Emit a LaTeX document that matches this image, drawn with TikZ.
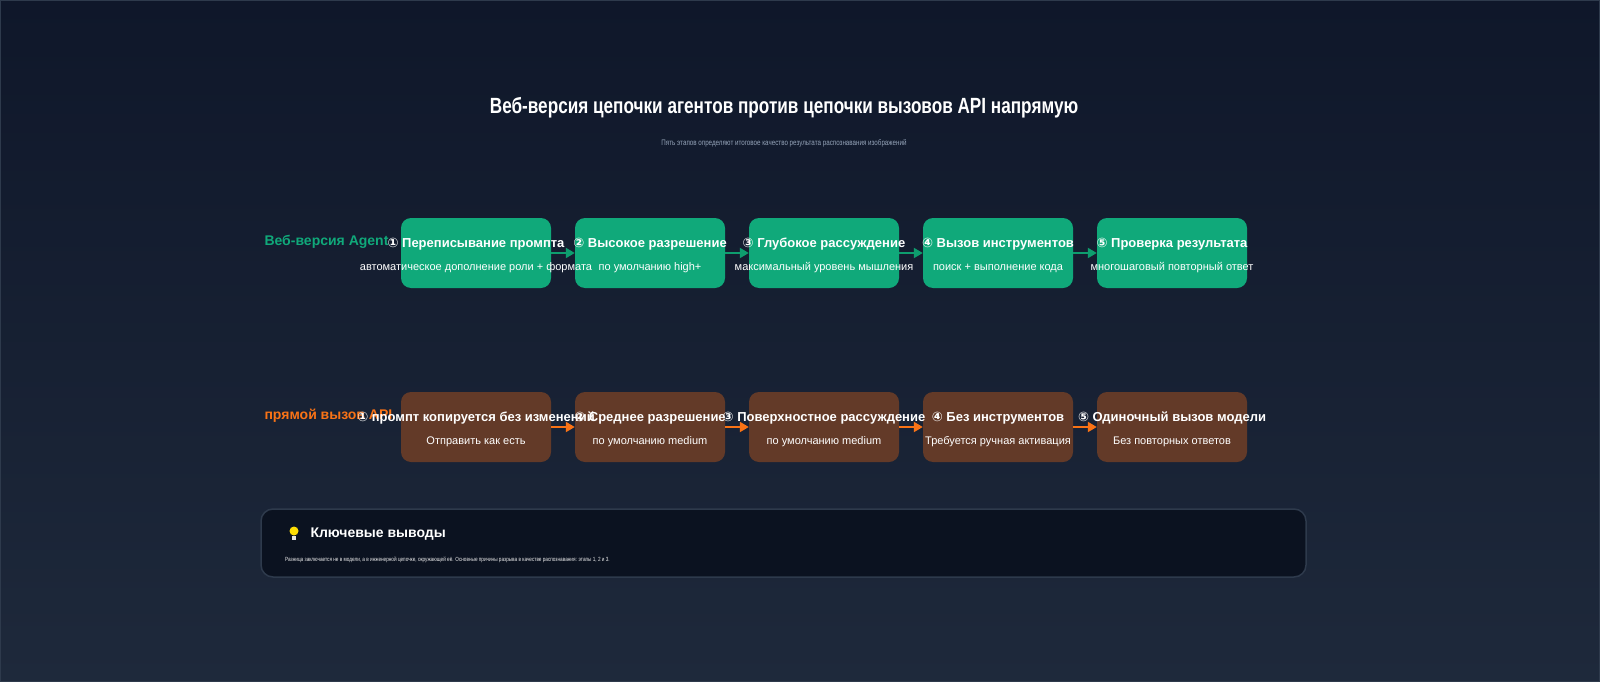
\documentclass[tikz,border=0pt]{standalone}
\usepackage{fontspec}
\setmainfont{Liberation Sans}
\newfontfamily\narrowfont[FakeStretch=0.78]{Liberation Sans}
\newfontfamily\symfont{DejaVu Sans}
\usetikzlibrary{positioning,arrows.meta}
\definecolor{bgtop}{HTML}{0F172A}
\definecolor{bgbot}{HTML}{1E293B}
\definecolor{webgreen}{HTML}{10A97A}
\definecolor{webarrow}{HTML}{0E9E6E}
\definecolor{apibrown}{HTML}{633A28}
\definecolor{apiorange}{HTML}{F97316}
\definecolor{panelfill}{HTML}{0B1220}
\definecolor{panelline}{HTML}{2E3A4C}
\definecolor{subgrey}{HTML}{94A3B8}
\newcommand{\cnum}[1]{{\symfont #1}}
\begin{document}
\begin{tikzpicture}[x=1pt,y=-1pt,
		% stili dei blocchi
		step box/.style={rounded corners=10pt, minimum width=150pt, minimum height=70pt, inner sep=0pt},
		web box/.style={step box, fill=webgreen},
		api box/.style={step box, fill=apibrown},
		head text/.style={text=white, font=\bfseries\fontsize{13}{15}\selectfont},
		sub text/.style={text=white, font=\fontsize{11}{13}\selectfont},
		web arrow/.style={draw=webarrow, line width=2pt, -{Triangle[length=9pt,width=10pt]}},
		api arrow/.style={draw=apiorange, line width=2pt, -{Triangle[length=9pt,width=10pt]}}
	]
	% sfondo
	\shade[top color=bgtop, bottom color=bgbot, shading angle=0] (0,0) rectangle (1600,682);
	\draw[panelline, line width=0.8pt] (0.5,0.5) rectangle (1599.5,681.5);
	\useasboundingbox (0,0) rectangle (1600,682);

	% titolo
	\node[text=white, font=\narrowfont\bfseries\fontsize{22}{24}\selectfont] (title) at (784,108) {Веб-версия цепочки агентов против цепочки вызовов API напрямую};
	\node[text=subgrey, font=\narrowfont\fontsize{8}{10}\selectfont, below=14pt of title] (subtitle) {Пять этапов определяют итоговое качество результата распознавания изображений};

	% etichette delle righe
	\node[anchor=west, text=webgreen, font=\bfseries\fontsize{14}{16}\selectfont] (weblabel) at (261,242) {Веб-версия Agent};
	\node[anchor=west, text=apiorange, font=\bfseries\fontsize{14}{16}\selectfont] (apilabel) at (261,416) {прямой вызов API};

	% =================================
	% RIGA 1 (web)
	% =================================
	\node[web box] (w1) at (476,253) {};
	\node[web box] (w2) at (650,253) {};
	\node[web box] (w3) at (824,253) {};
	\node[web box] (w4) at (998,253) {};
	\node[web box] (w5) at (1172,253) {};

	\draw[web arrow] (w1.east) -- (w2.west);
	\draw[web arrow] (w2.east) -- (w3.west);
	\draw[web arrow] (w3.east) -- (w4.west);
	\draw[web arrow] (w4.east) -- (w5.west);

	\node[head text] (w1h) at ([yshift=9pt]w1.center) {\cnum{①} Переписывание промпта};
	\node[sub text] (w1s) at ([yshift=-15pt]w1.center) {автоматическое дополнение роли + формата};
	\node[head text] (w2h) at ([yshift=9pt]w2.center) {\cnum{②} Высокое разрешение};
	\node[sub text] (w2s) at ([yshift=-15pt]w2.center) {по умолчанию high+};
	\node[head text] (w3h) at ([yshift=9pt]w3.center) {\cnum{③} Глубокое рассуждение};
	\node[sub text] (w3s) at ([yshift=-15pt]w3.center) {максимальный уровень мышления};
	\node[head text] (w4h) at ([yshift=9pt]w4.center) {\cnum{④} Вызов инструментов};
	\node[sub text] (w4s) at ([yshift=-15pt]w4.center) {поиск + выполнение кода};
	\node[head text] (w5h) at ([yshift=9pt]w5.center) {\cnum{⑤} Проверка результата};
	\node[sub text] (w5s) at ([yshift=-15pt]w5.center) {многошаговый повторный ответ};

	% =================================
	% RIGA 2 (API)
	% =================================
	\node[api box] (a1) at (476,427) {};
	\node[api box] (a2) at (650,427) {};
	\node[api box] (a3) at (824,427) {};
	\node[api box] (a4) at (998,427) {};
	\node[api box] (a5) at (1172,427) {};

	\draw[api arrow] (a1.east) -- (a2.west);
	\draw[api arrow] (a2.east) -- (a3.west);
	\draw[api arrow] (a3.east) -- (a4.west);
	\draw[api arrow] (a4.east) -- (a5.west);

	\node[head text] (a1h) at ([yshift=9pt]a1.center) {\cnum{①} промпт копируется без изменений};
	\node[sub text] (a1s) at ([yshift=-15pt]a1.center) {Отправить как есть};
	\node[head text] (a2h) at ([yshift=9pt]a2.center) {\cnum{②} Среднее разрешение};
	\node[sub text] (a2s) at ([yshift=-15pt]a2.center) {по умолчанию medium};
	\node[head text] (a3h) at ([yshift=9pt]a3.center) {\cnum{③} Поверхностное рассуждение};
	\node[sub text] (a3s) at ([yshift=-15pt]a3.center) {по умолчанию medium};
	\node[head text] (a4h) at ([yshift=9pt]a4.center) {\cnum{④} Без инструментов};
	\node[sub text] (a4s) at ([yshift=-15pt]a4.center) {Требуется ручная активация};
	\node[head text] (a5h) at ([yshift=9pt]a5.center) {\cnum{⑤} Одиночный вызов модели};
	\node[sub text] (a5s) at ([yshift=-15pt]a5.center) {Без повторных ответов};

	% =================================
	% RIQUADRO FINALE
	% =================================
	\node[draw=panelline, line width=1.5pt, fill=panelfill, rounded corners=12pt, minimum width=1045pt, minimum height=68pt] (panel) at (783.5,543) {};
	\fill[yellow!80!orange] (294,531) circle (4.5pt);
	\fill[white!80!gray] (292,536) rectangle (296,540);
	\node[anchor=west, text=white, font=\bfseries\fontsize{14}{16}\selectfont] (paneltitle) at (307,534) {Ключевые выводы};
	\node[anchor=west, text=white!85!gray, font=\narrowfont\fontsize{6}{7}\selectfont, inner sep=0pt] (paneltext) at (285,560) {Разница заключается не в модели, а в инженерной цепочке, окружающей её. Основные причины разрыва в качестве распознавания: этапы 1, 2 и 3.};
\end{tikzpicture}
\end{document}
